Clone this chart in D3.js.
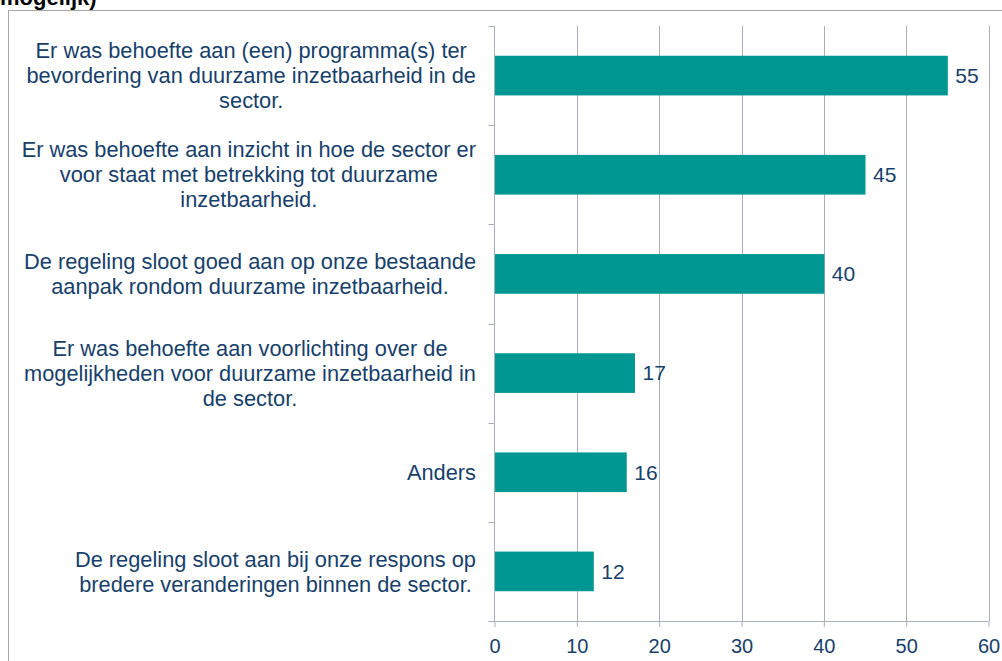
<!DOCTYPE html>
<html>
<head>
<meta charset="utf-8">
<script src="https://cdn.jsdelivr.net/npm/d3@7"></script>
<style>
  html, body { margin: 0; padding: 0; background: #fff; }
  svg { display: block; }
  text { font-family: "Liberation Sans", Arial, sans-serif; }
</style>
</head>
<body>
<svg id="chart" width="1002" height="661"></svg>
<script>
const title = "mogelijk)";
const categories = [
  "Er was behoefte aan (een) programma(s) ter\nbevordering van duurzame inzetbaarheid in de\nsector.",
  "Er was behoefte aan inzicht in hoe de sector er\nvoor staat met betrekking tot duurzame\ninzetbaarheid.",
  "De regeling sloot goed aan op onze bestaande\naanpak rondom duurzame inzetbaarheid.",
  "Er was behoefte aan voorlichting over de\nmogelijkheden voor duurzame inzetbaarheid in\nde sector.",
  "Anders",
  "De regeling sloot aan bij onze respons op\nbredere veranderingen binnen de sector."
];
const values = [55, 45, 40, 17, 16, 12];
const xTicks = [0, 10, 20, 30, 40, 50, 60];

(function () {
const textColor = "#173f6b";
const barColor = "#009792";
const gridColor = "#a9b0bd";

const svg = d3.select("#chart");
const pLeft = 494.5, pRight = 988.5, pTop = 26, pBottom = 621;

// outer border and cut-off title
svg.append("rect").attr("x", 8.5).attr("y", 10.5).attr("width", 1100).attr("height", 800)
  .attr("fill", "none").attr("stroke", "#a6a6a6").attr("stroke-width", 1);
svg.append("text").attr("x", 0).attr("y", 5).attr("font-size", 22).attr("font-weight", "bold")
  .attr("fill", "#000").text(title);

const x = d3.scaleLinear().domain([0, 60]).range([pLeft, pRight]);
const y = d3.scaleBand().domain(categories).range([pTop, pBottom]).paddingInner(0.6).paddingOuter(0.3);

// gridlines
svg.append("g").selectAll("line").data(xTicks.slice(1)).join("line")
  .attr("x1", d => Math.round(x(d)) + 0.5).attr("x2", d => Math.round(x(d)) + 0.5)
  .attr("y1", pTop).attr("y2", pBottom)
  .attr("stroke", gridColor).attr("stroke-width", 1);

// bottom axis
const xAxis = d3.axisBottom(x).tickValues(xTicks).tickSize(6).tickPadding(12);
const gx = svg.append("g").attr("transform", `translate(0,${pBottom})`).call(xAxis);
gx.select(".domain").attr("stroke", gridColor).attr("d", `M${pLeft - 6},0.5H${pRight}`);
gx.selectAll(".tick line").attr("stroke", gridColor);
gx.selectAll(".tick text").attr("fill", textColor).attr("font-size", 20)
  .attr("font-family", "Liberation Sans, Arial, sans-serif");

// left axis with category boundary ticks
const boundaries = d3.range(categories.length + 1).map(i => pTop + i * (pBottom - pTop) / categories.length);
svg.append("line").attr("x1", pLeft).attr("x2", pLeft).attr("y1", pTop).attr("y2", pBottom)
  .attr("stroke", gridColor);
svg.append("g").selectAll("line").data(boundaries).join("line")
  .attr("x1", pLeft - 6).attr("x2", pLeft).attr("y1", d => Math.round(d) + 0.5).attr("y2", d => Math.round(d) + 0.5)
  .attr("stroke", gridColor);

// bars
svg.append("g").selectAll("rect").data(values).join("rect")
  .attr("x", x(0) + 0.5).attr("y", (d, i) => y(categories[i]))
  .attr("width", d => x(d) - x(0)).attr("height", y.bandwidth())
  .attr("fill", barColor);

// value labels
svg.append("g").selectAll("text").data(values).join("text")
  .attr("x", d => x(d) + 8).attr("y", (d, i) => y(categories[i]) + y.bandwidth() / 2)
  .attr("dy", "0.35em").attr("font-size", 21).attr("fill", textColor).text(d => d);

// category labels (right aligned block, centred lines)
const labelRight = 476;
const lineH = 25;
categories.forEach(cat => {
  const lines = cat.split("\n");
  const cy = y(cat) + y.bandwidth() / 2;
  const g = svg.append("g");
  const texts = lines.map((ln, j) => g.append("text")
    .attr("y", cy + (j - (lines.length - 1) / 2) * lineH)
    .attr("dy", "0.35em").attr("font-size", 21.8).attr("fill", textColor)
    .attr("text-anchor", "middle").text(ln));
  const maxW = d3.max(texts, t => t.node().getComputedTextLength());
  texts.forEach(t => t.attr("x", labelRight - maxW / 2));
});
})();
</script>
</body>
</html>
